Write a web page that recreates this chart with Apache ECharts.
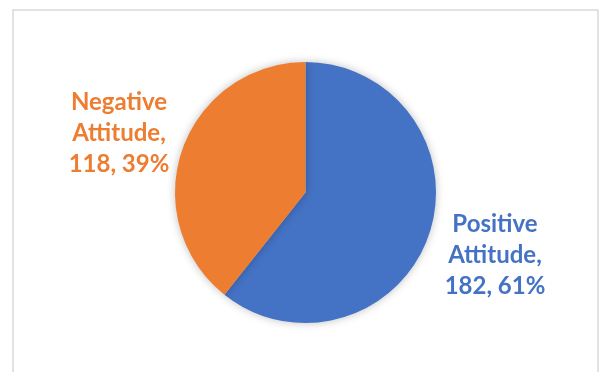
<!DOCTYPE html>
<html><head><meta charset="utf-8">
<script src="https://cdn.jsdelivr.net/npm/echarts@6/dist/echarts.min.js"></script>
<style>html,body{margin:0;padding:0;background:#fff}#c{width:600px;height:372px}</style>
</head><body><div id="c"></div>
<script>
const categories = ['Positive Attitude', 'Negative Attitude'];
const values = [182, 118];
const colors = ['#4472C4', '#ED7D31'];
const labelPos = [[495, 255], [119, 133]];

const chart = echarts.init(document.getElementById('c'), null, {renderer: 'canvas'});
chart.setOption({
  animation: false,
  graphic: [{
    type: 'rect', shape: {x: 13, y: 10, width: 585, height: 380},
    style: {fill: 'none', stroke: '#d9d9d9', lineWidth: 1.5}, silent: true, z: -10
  }],
  series: [{
    type: 'pie',
    center: [305.5, 192.5],
    radius: 130.5,
    startAngle: 90,
    clockwise: true,
    percentPrecision: 0,
    data: categories.map((n, i) => ({name: n, value: values[i], itemStyle: {color: colors[i]}})),
    itemStyle: {borderWidth: 0, shadowBlur: 8, shadowColor: 'rgba(0,0,0,0.25)'},
    label: {
      show: true, position: 'outside',
      formatter: p => p.name.replace(' ', '\n') + ',\n' + p.value + ', ' + p.percent + '%',
      fontFamily: 'Lato', fontWeight: 'bold', fontSize: 24, lineHeight: 31,
      align: 'center', verticalAlign: 'middle',
      color: 'inherit'
    },
    labelLine: {show: false},
    labelLayout: p => ({x: labelPos[p.dataIndex][0], y: labelPos[p.dataIndex][1], align: 'center', verticalAlign: 'middle'})
  }]
});
</script></body></html>
